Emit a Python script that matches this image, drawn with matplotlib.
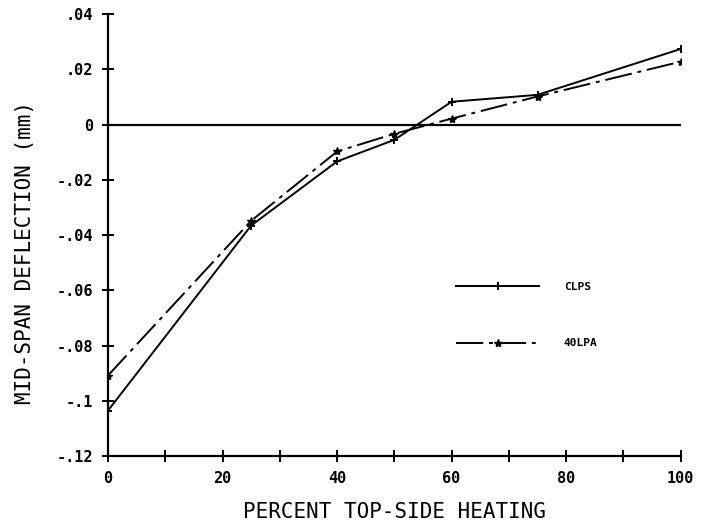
import matplotlib
matplotlib.use("Agg")
import matplotlib.pyplot as plt

x_pct = [0, 25, 40, 50, 60, 75, 100]
clps = [-0.1035, -0.0365, -0.0133, -0.0055, 0.0083, 0.0108, 0.0274]
lpa40 = [-0.0908, -0.0348, -0.0097, -0.0033, 0.0022, 0.0102, 0.0228]
series_names = ["CLPS", "40LPA"]

xticks = [0, 10, 20, 30, 40, 50, 60, 70, 80, 90, 100]
xticklabels = ["0", "", "20", "", "40", "", "60", "", "80", "", "100"]
yticks = [-0.12, -0.10, -0.08, -0.06, -0.04, -0.02, 0, 0.02, 0.04]
yticklabels = ["-.12", "-.1", "-.08", "-.06", "-.04", "-.02", "0", ".02", ".04"]

fig = plt.figure(figsize=(7.15, 5.25), dpi=100)
ax = fig.add_axes([0.151, 0.131, 0.801, 0.842])

mono = "DejaVu Sans Mono"

ax.plot(x_pct, clps, color="black", lw=1.4, marker="+", ms=6, mew=1.4,
        label=series_names[0])
ax.plot(x_pct, lpa40, color="black", lw=1.4, marker="*", ms=6,
        dashes=(14, 3, 2, 3), label=series_names[1])
ax.axhline(0, color="black", lw=1.6)

ax.set_xlim(0, 100)
ax.set_ylim(-0.12, 0.04)
ax.set_xticks(xticks)
ax.set_xticklabels(xticklabels, fontfamily=mono, fontweight="bold", fontsize=11)
ax.set_yticks(yticks)
ax.set_yticklabels(yticklabels, fontfamily=mono, fontweight="bold", fontsize=11)
ax.tick_params(direction="inout", length=9, width=1.4, pad=6)

for s in ["top", "right"]:
    ax.spines[s].set_visible(False)
for s in ["left", "bottom"]:
    ax.spines[s].set_linewidth(1.6)

ax.set_xlabel("PERCENT TOP-SIDE HEATING", fontfamily=mono, fontsize=15, labelpad=12)
ax.set_ylabel("MID-SPAN DEFLECTION (mm)", fontfamily=mono, fontsize=15)
ax.yaxis.set_label_coords(-0.128, 0.46)

leg = ax.legend(frameon=False, loc="upper left", bbox_to_anchor=(0.59, 0.416),
                handlelength=7.5, handletextpad=2.2, labelspacing=4.15,
                numpoints=1, prop={"family": mono, "weight": "bold", "size": 8})

fig.savefig("out.png", dpi=100)
